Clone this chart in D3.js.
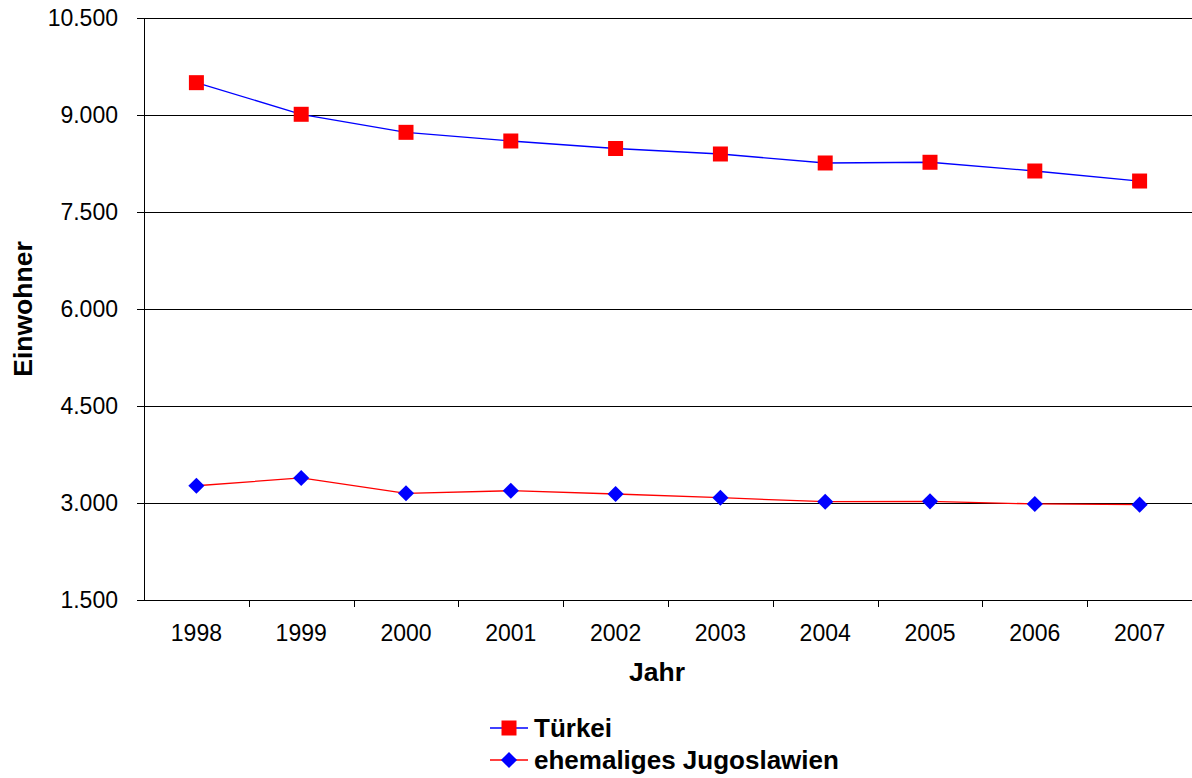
<!DOCTYPE html>
<html>
<head>
<meta charset="utf-8">
<script src="https://cdnjs.cloudflare.com/ajax/libs/d3/7.8.5/d3.min.js"></script>
<style>
  body { margin: 0; background: #fff; }
  svg { font-family: "Liberation Sans", Arial, sans-serif; }
</style>
</head>
<body>
<svg id="chart" width="1192" height="778"></svg>
<script>
// data
var years = ["1998", "1999", "2000", "2001", "2002", "2003", "2004", "2005", "2006", "2007"];
var tuerkei = [9500, 9011, 8732, 8598, 8482, 8397, 8258, 8269, 8134, 7979];
var jugoslawien = [3267, 3387, 3150, 3190, 3139, 3082, 3020, 3026, 2985, 2974];
var yTicks = [1500, 3000, 4500, 6000, 7500, 9000, 10500];
var seriesNames = ["Türkei", "ehemaliges Jugoslawien"];

var margin = {top: 18, right: 0, bottom: 178, left: 144},
    width = 1192 - margin.left - margin.right,
    height = 778 - margin.top - margin.bottom;

var svg = d3.select("#chart");
var g = svg.append("g")
    .attr("transform", "translate(" + margin.left + "," + margin.top + ")");

var x = d3.scaleBand().domain(years).range([0, width]);
var y = d3.scaleLinear().domain([1500, 10500]).range([height, 0]);

var fmt = function(d) { return d3.format(",")(d).replace(/,/g, "."); };

// horizontal grid lines
g.selectAll(".grid")
    .data(yTicks.slice(1))
  .enter().append("line")
    .attr("class", "grid")
    .attr("x1", 0).attr("x2", width)
    .attr("y1", function(d) { return Math.round(y(d)) + 0.5; })
    .attr("y2", function(d) { return Math.round(y(d)) + 0.5; })
    .attr("stroke", "#000")
    .attr("stroke-width", 1);

// y axis
var yAxis = d3.axisLeft(y).tickValues(yTicks).tickFormat(fmt).tickSize(7).tickPadding(19);
var ya = g.append("g").attr("class", "y axis").call(yAxis);
ya.select(".domain").attr("stroke", "#000").attr("d", "M0.5," + height + "V0");
ya.selectAll("line").attr("stroke", "#000");
ya.selectAll("text").style("font-size", "23px").attr("fill", "#000");

// x axis
var xAxis = d3.axisBottom(x).tickSize(0).tickPadding(25);
var xa = g.append("g").attr("class", "x axis")
    .attr("transform", "translate(0," + height + ")")
    .call(xAxis);
xa.select(".domain").attr("stroke", "#000").attr("d", "M0," + 0.5 + "H" + width);
xa.selectAll("text").style("font-size", "23px").attr("fill", "#000");
xa.selectAll(".boundary")
    .data(years.slice(1))
  .enter().append("line")
    .attr("class", "boundary")
    .attr("x1", function(d) { return Math.round(x(d)) + 0.5; })
    .attr("x2", function(d) { return Math.round(x(d)) + 0.5; })
    .attr("y1", 0).attr("y2", 7)
    .attr("stroke", "#000");

// axis titles
svg.append("text")
    .attr("x", margin.left + width / 2 - 11)
    .attr("y", 681)
    .attr("text-anchor", "middle")
    .style("font-size", "26.5px")
    .style("font-weight", "bold")
    .text("Jahr");

svg.append("text")
    .attr("transform", "translate(32," + (margin.top + height / 2) + ")rotate(-90)")
    .attr("text-anchor", "middle")
    .style("font-size", "26.5px")
    .style("font-weight", "bold")
    .text("Einwohner");

var cx = function(d, i) { return x(years[i]) + x.bandwidth() / 2; };

var line = d3.line()
    .x(function(d, i) { return cx(d, i); })
    .y(function(d) { return y(d); });

// Türkei: blue line, red squares
g.append("path")
    .datum(tuerkei)
    .attr("d", line)
    .attr("fill", "none")
    .attr("stroke", "#0000ff")
    .attr("stroke-width", 1.3);

var square = d3.symbol().type(d3.symbolSquare).size(225);
var diamond = d3.symbol().type(d3.symbolSquare).size(130);

g.selectAll(".sq")
    .data(tuerkei)
  .enter().append("path")
    .attr("class", "sq")
    .attr("d", square)
    .attr("transform", function(d, i) { return "translate(" + cx(d, i) + "," + y(d) + ")"; })
    .attr("fill", "#ff0000");

// Jugoslawien: red line, blue diamonds
g.append("path")
    .datum(jugoslawien)
    .attr("d", line)
    .attr("fill", "none")
    .attr("stroke", "#ff0000")
    .attr("stroke-width", 1.3);

g.selectAll(".dm")
    .data(jugoslawien)
  .enter().append("path")
    .attr("class", "dm")
    .attr("d", diamond)
    .attr("transform", function(d, i) { return "translate(" + cx(d, i) + "," + y(d) + ")rotate(45)"; })
    .attr("fill", "#0000ff");

// legend
var legend = svg.append("g").attr("transform", "translate(490,728)");
var lineColors = ["#0000ff", "#ff0000"];
var items = legend.selectAll(".item")
    .data(seriesNames)
  .enter().append("g")
    .attr("class", "item")
    .attr("transform", function(d, i) { return "translate(0," + i * 32 + ")"; });

items.append("line")
    .attr("x1", 0).attr("x2", 38)
    .attr("stroke", function(d, i) { return lineColors[i]; })
    .attr("stroke-width", 1.3);

items.append("path")
    .attr("d", function(d, i) { return i === 0 ? square() : diamond(); })
    .attr("transform", function(d, i) { return "translate(19,0)" + (i === 1 ? "rotate(45)" : ""); })
    .attr("fill", function(d, i) { return i === 0 ? "#ff0000" : "#0000ff"; });

items.append("text")
    .attr("x", 44)
    .attr("dy", "0.35em")
    .style("font-size", "26px")
    .style("font-weight", "bold")
    .text(function(d) { return d; });
</script>
</body>
</html>
